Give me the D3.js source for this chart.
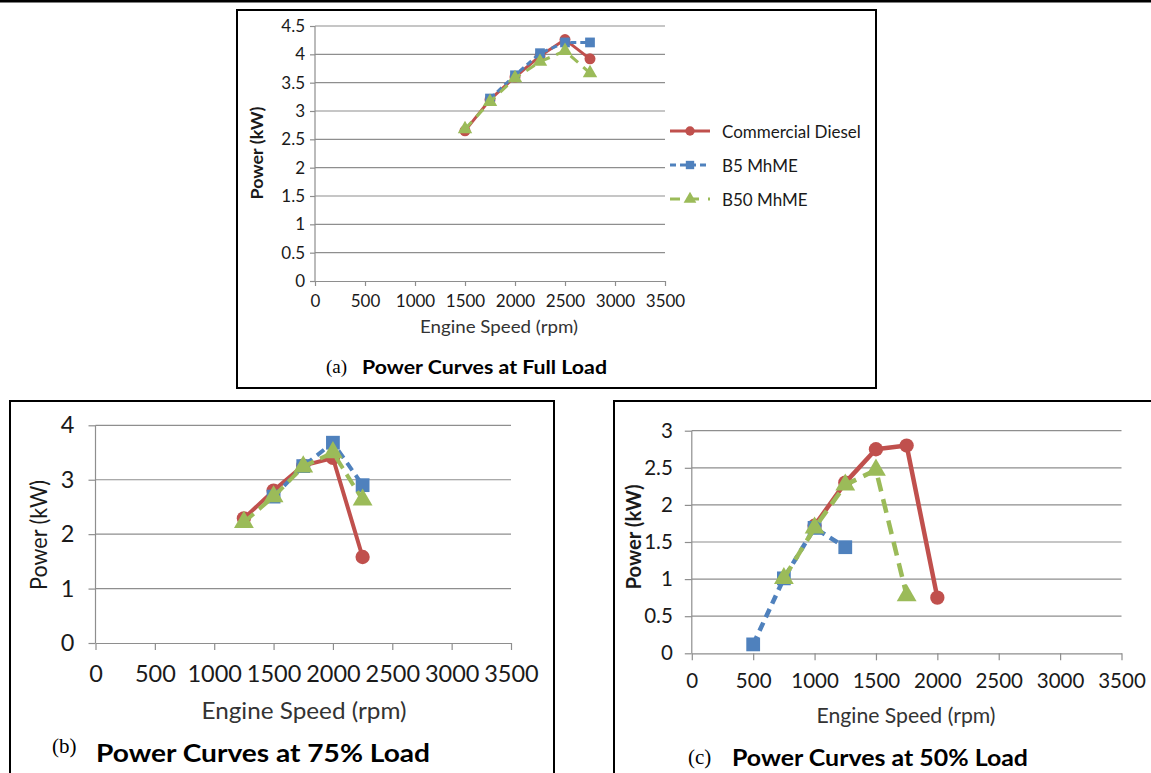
<!DOCTYPE html>
<html>
<head>
<meta charset="utf-8">
<script src="https://cdn.jsdelivr.net/npm/d3@7/dist/d3.min.js"></script>
<style>
  body { margin: 0; background: #fff; }
  svg { display: block; }
</style>
</head>
<body>
<div id="viz"></div>
<script>
// Full load (a)
const speedA = [1500, 1750, 2000, 2250, 2500, 2750];
const dieselA = [2.65, 3.2, 3.6, 3.97, 4.26, 3.92];
const b5A = [null, 3.22, 3.63, 4.02, 4.21, 4.21];
const b50A = [2.68, 3.16, 3.58, 3.87, 4.06, 3.67];

// 75% load (b)
const speedB = [1250, 1500, 1750, 2000, 2250];
const dieselB = [2.29, 2.8, 3.26, 3.4, 1.58];
const b5B = [null, 2.69, 3.25, 3.68, 2.9];
const b50B = [2.22, 2.69, 3.24, 3.5, 2.63];

// 50% load (c)
const speedC = [500, 750, 1000, 1250, 1500, 1750, 2000];
const dieselC = [null, null, 1.72, 2.3, 2.75, 2.8, 0.75];
const b5C = [0.12, 1.01, 1.69, 1.43, null, null, null];
const b50C = [null, 1.01, 1.69, 2.27, 2.47, 0.78, null];

const seriesNames = ['Commercial Diesel', 'B5 MhME', 'B50 MhME'];
const xTicks = [0, 500, 1000, 1500, 2000, 2500, 3000, 3500];

const colours = {
  'Commercial Diesel': '#c0504d',
  'B5 MhME': '#4f81bd',
  'B50 MhME': '#9bbb59',
};
const shapes = {
  'Commercial Diesel': d3.symbolCircle,
  'B5 MhME': d3.symbolSquare,
  'B50 MhME': d3.symbolTriangle,
};

const font = 'Lato, "Open Sans", sans-serif';
const grey = '#8e8e8e';

const svg = d3.select('#viz')
  .append('svg')
  .attr('width', 1151)
  .attr('height', 773);

// page rule at the very top
svg.append('rect').attr('x', 0).attr('y', 0).attr('width', 1151).attr('height', 2.5).attr('fill', '#000');

const drawPanel = (cfg) => {
  const g = svg.append('g');

  g.append('rect')
    .attr('x', cfg.box[0]).attr('y', cfg.box[1])
    .attr('width', cfg.box[2]).attr('height', cfg.box[3])
    .attr('fill', 'none').attr('stroke', '#000').attr('stroke-width', 2);

  const x = d3.scaleLinear().domain([0, 3500]).range([cfg.plot[0], cfg.plot[1]]);
  const y = d3.scaleLinear().domain([0, cfg.yMax]).range([cfg.plot[3], cfg.plot[2]]);

  // gridlines
  g.selectAll('.grid')
    .data(cfg.yTicks.filter(v => v > 0))
    .enter()
    .append('line')
    .attr('x1', cfg.plot[0]).attr('x2', cfg.plot[1])
    .attr('y1', d => y(d)).attr('y2', d => y(d))
    .attr('stroke', grey).attr('stroke-width', 1.2);

  const yAxis = g.append('g')
    .attr('transform', `translate(${cfg.plot[0]},0)`)
    .call(d3.axisLeft(y).tickValues(cfg.yTicks).tickSize(cfg.tick).tickSizeOuter(0)
      .tickPadding(cfg.yPad).tickFormat(d3.format('')));
  const xAxis = g.append('g')
    .attr('transform', `translate(0,${cfg.plot[3]})`)
    .call(d3.axisBottom(x).tickValues(xTicks).tickSize(cfg.tick).tickSizeOuter(0)
      .tickPadding(cfg.xPad).tickFormat(d3.format('')));

  [yAxis, xAxis].forEach(ax => {
    ax.select('.domain').attr('stroke', grey).attr('stroke-width', 1.2);
    ax.selectAll('.tick line').attr('stroke', grey).attr('stroke-width', 1.2);
    ax.selectAll('.tick text')
      .attr('fill', '#1a1a1a')
      .style('font-family', font)
      .style('font-size', `${cfg.tickFont}px`);
  });
  yAxis.select('.domain').attr('d', `M0,${cfg.plot[3]}V${cfg.plot[2]}`);

  // axis titles
  g.append('text')
    .attr('transform', `translate(${cfg.yTitle[0]},${cfg.yTitle[1]}) rotate(-90)`)
    .attr('text-anchor', 'middle')
    .attr('dominant-baseline', 'central')
    .attr('textLength', cfg.yTitleW)
    .attr('lengthAdjust', 'spacingAndGlyphs')
    .style('font-family', font)
    .style('font-size', `${cfg.yTitleFont}px`)
    .style('font-weight', cfg.yBold ? 'bold' : 'normal')
    .attr('fill', '#1a1a1a')
    .text('Power (kW)');

  g.append('text')
    .attr('x', cfg.xTitle[0]).attr('y', cfg.xTitle[1])
    .attr('text-anchor', 'middle')
    .attr('dominant-baseline', 'central')
    .attr('textLength', cfg.xTitleW)
    .attr('lengthAdjust', 'spacingAndGlyphs')
    .style('font-family', font)
    .style('font-size', `${cfg.xTitleFont}px`)
    .attr('fill', '#333')
    .text('Engine Speed (rpm)');

  // series
  const line = d3.line()
    .defined(d => d.v !== null)
    .x(d => x(d.s))
    .y(d => y(d.v));

  cfg.series.forEach((vals, i) => {
    const name = seriesNames[i];
    const pts = cfg.speeds.map((s, j) => ({ s, v: vals[j] }));
    g.append('path')
      .datum(pts)
      .attr('d', line)
      .attr('fill', 'none')
      .attr('stroke', colours[name])
      .attr('stroke-width', cfg.lw)
      .attr('stroke-linejoin', 'round')
      .attr('stroke-dasharray', cfg.dash[i]);
    g.selectAll(null)
      .data(pts.filter(d => d.v !== null))
      .enter()
      .append('path')
      .attr('transform', d => `translate(${x(d.s)},${y(d.v)})`)
      .attr('d', d3.symbol().type(shapes[name]).size(cfg.markSize[i]))
      .attr('fill', colours[name]);
  });

  // caption
  g.append('text')
    .attr('x', cfg.capX[0]).attr('y', cfg.capY[0])
    .attr('dominant-baseline', 'central')
    .style('font-family', '"Liberation Serif", "DejaVu Serif", serif')
    .style('font-size', `${cfg.capFont[0]}px`)
    .text(cfg.capLetter);
  g.append('text')
    .attr('x', cfg.capX[1]).attr('y', cfg.capY[1])
    .attr('dominant-baseline', 'central')
    .attr('textLength', cfg.capW)
    .attr('lengthAdjust', 'spacingAndGlyphs')
    .style('font-family', font)
    .style('font-weight', 'bold')
    .style('font-size', `${cfg.capFont[1]}px`)
    .text(cfg.caption);

  return g;
};

const panelA = drawPanel({
  box: [237, 10, 639, 378],
  plot: [315, 665, 26, 281],
  yMax: 4.5,
  yTicks: d3.range(0, 4.51, 0.5),
  tick: 5, yPad: 5, xPad: 9,
  tickFont: 17, yTitleFont: 17, xTitleFont: 17, yBold: true,
  yTitle: [256, 153], yTitleW: 93, xTitle: [499, 326], xTitleW: 158,
  speeds: speedA, series: [dieselA, b5A, b50A],
  lw: 3, dash: [null, '6,4', '10,7'], markSize: [95, 95, 90],
  capLetter: '(a)', caption: 'Power Curves at Full Load',
  capX: [326, 362], capY: [366, 367], capW: 245, capFont: [19, 18],
});

// legend for panel (a)
const legend = panelA.selectAll('.legend')
  .data(seriesNames)
  .enter()
  .append('g')
  .attr('transform', (d, i) => `translate(670, ${131 + i * 34})`);
legend.append('line')
  .attr('x1', 0).attr('x2', 40)
  .attr('stroke', d => colours[d])
  .attr('stroke-width', 3)
  .attr('stroke-dasharray', (d, i) => [null, '6,4', '10,9'][i]);
legend.append('path')
  .attr('transform', 'translate(20,0)')
  .attr('d', d => d3.symbol().type(shapes[d]).size(70)())
  .attr('fill', d => colours[d]);
legend.append('text')
  .attr('x', 52)
  .attr('dominant-baseline', 'central')
  .style('font-family', font)
  .style('font-size', '17px')
  .attr('fill', '#1a1a1a')
  .text(d => d);

drawPanel({
  box: [10, 401, 544, 380],
  plot: [95.5, 511, 425.3, 643],
  yMax: 4,
  yTicks: [0, 1, 2, 3, 4],
  tick: 7, yPad: 14, xPad: 15,
  tickFont: 23.5, yTitleFont: 23, xTitleFont: 24, yBold: false,
  yTitle: [38, 535], yTitleW: 110, xTitle: [304, 709], xTitleW: 205,
  speeds: speedB, series: [dieselB, b5B, b50B],
  lw: 4, dash: [null, '9,6', '13,7'], markSize: [160, 190, 170],
  capLetter: '(b)', caption: 'Power Curves at 75% Load',
  capX: [52, 96], capY: [746, 752], capW: 334, capFont: [21, 24],
});

drawPanel({
  box: [614, 401, 560, 380],
  plot: [691.8, 1121.5, 430.7, 653.3],
  yMax: 3,
  yTicks: d3.range(0, 3.01, 0.5),
  tick: 7, yPad: 12, xPad: 13,
  tickFont: 20.5, yTitleFont: 20, xTitleFont: 21, yBold: true,
  yTitle: [633, 537], yTitleW: 105, xTitle: [906, 714], xTitleW: 179,
  speeds: speedC, series: [dieselC, b5C, b50C],
  lw: 4.5, dash: [null, '9,6', '14,8'], markSize: [160, 190, 170],
  capLetter: '(c)', caption: 'Power Curves at 50% Load',
  capX: [688, 732], capY: [757, 757], capW: 296, capFont: [21, 22],
});
</script>
</body>
</html>
